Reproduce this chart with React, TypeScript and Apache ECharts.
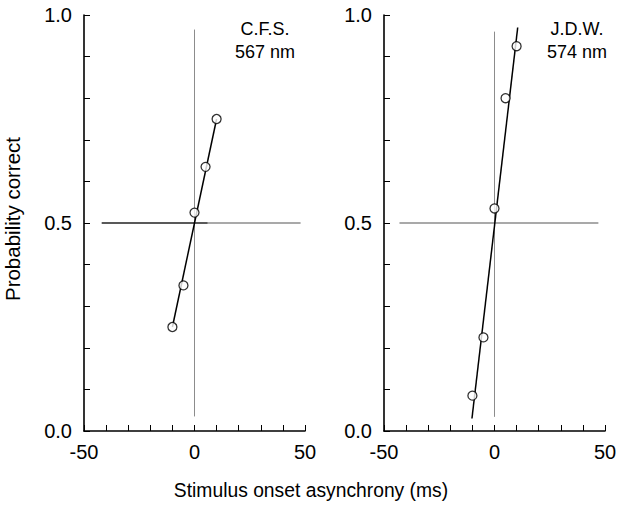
import React, { useEffect, useRef } from "react";
import * as echarts from "echarts";

// Stimulus onset asynchrony (ms) of the measured points
const delays = [-10, -5, 0, 5, 10];
// Probability correct, observer C.F.S. (567 nm)
const cfsProb = [0.25, 0.35, 0.525, 0.635, 0.75];
// Probability correct, observer J.D.W. (574 nm)
const jdwProb = [0.085, 0.225, 0.535, 0.8, 0.925];

// Fitted lines (endpoints)
const cfsFitX = [-10, 10];
const cfsFitY = [0.25, 0.75];
const jdwFitX = [-10.2, 10.5];
const jdwFitY = [0.03, 0.97];

// Reference lines (chance level and zero asynchrony)
const cfsRefHDarkX = [-42, 6];
const cfsRefHX = [6, 48];
const jdwRefHX = [-43, 47];
const refHY = 0.5;
const refVX = 0;
const cfsRefVY = [0.035, 0.965];
const jdwRefVY = [0.034, 0.96];

// Axis ranges and labelled ticks
const xRange = [-50, 50];
const yRange = [0, 1];
const xLabelled = [-50, 0, 50];
const yLabelled = [0, 0.5, 1];

const panelLabels = [
  ["C.F.S.", "567 nm"],
  ["J.D.W.", "574 nm"],
];

const FONT = "'Liberation Sans', Arial, Helvetica, sans-serif";

function pairs(xs: number[], ys: number[]) {
  return xs.map((x, i) => [x, ys[i]]);
}

export default function App() {
  const ref = useRef<HTMLDivElement>(null);

  useEffect(() => {
    if (!ref.current) return;
    const chart = echarts.init(ref.current, undefined, { renderer: "svg" });

    const grids = [
      { left: 84, top: 15, width: 221, height: 416 },
      { left: 384, top: 15, width: 221, height: 416 },
    ];

    const xAxis = grids.map((_, i) => ({
      type: "value",
      gridIndex: i,
      min: xRange[0],
      max: xRange[1],
      interval: 10,
      splitLine: { show: false },
      axisLine: { show: true, onZero: false, lineStyle: { color: "#000", width: 1.6 } },
      axisTick: { show: true, inside: true, length: 6, lineStyle: { color: "#000", width: 1 } },
      axisLabel: {
        show: true,
        margin: 11,
        fontFamily: FONT,
        fontSize: 20,
        lineHeight: 20,
        color: "#000",
        formatter: (v: number) =>
          xLabelled.some((l) => Math.abs(l - v) < 1e-6) ? String(Math.round(v)) : "",
      },
    }));

    const yAxis = grids.map((_, i) => ({
      type: "value",
      gridIndex: i,
      min: yRange[0],
      max: yRange[1],
      interval: 0.1,
      splitLine: { show: false },
      axisLine: { show: true, onZero: false, lineStyle: { color: "#000", width: 1.6 } },
      axisTick: { show: true, inside: true, length: 6, lineStyle: { color: "#000", width: 1 } },
      axisLabel: {
        show: true,
        margin: 12,
        fontFamily: FONT,
        fontSize: 20,
        color: "#000",
        formatter: (v: number) =>
          yLabelled.some((l) => Math.abs(l - v) < 1e-6) ? v.toFixed(1) : "",
      },
    }));

    const refLine = (i: number, xs: number[], ys: number[], color: string, width: number) => ({
      type: "line",
      xAxisIndex: i,
      yAxisIndex: i,
      data: pairs(xs, ys),
      symbol: "none",
      silent: true,
      lineStyle: { color, width },
      z: 1,
    });

    const fitSeries = (i: number, xs: number[], ys: number[]) => ({
      type: "line",
      xAxisIndex: i,
      yAxisIndex: i,
      data: pairs(xs, ys),
      symbol: "none",
      silent: true,
      lineStyle: { color: "#000", width: 1.5 },
      z: 2,
    });

    const pointSeries = (i: number, ys: number[]) => ({
      type: "scatter",
      xAxisIndex: i,
      yAxisIndex: i,
      data: pairs(delays, ys),
      symbol: "circle",
      symbolSize: 9,
      itemStyle: { color: "#fff", borderColor: "#000", borderWidth: 1.3 },
      z: 3,
    });

    const labelTexts = (cx: number, lines: string[]) =>
      lines.map((t, k) => ({
        type: "text",
        x: cx,
        y: 29 + k * 23,
        style: {
          text: t,
          fontFamily: FONT,
          fontSize: 18,
          fill: "#000",
          align: "center",
          verticalAlign: "middle",
        },
      }));

    chart.setOption({
      animation: false,
      backgroundColor: "#fff",
      grid: grids,
      xAxis,
      yAxis,
      series: [
        refLine(0, cfsRefHDarkX, [refHY, refHY], "#222", 1.3),
        refLine(0, cfsRefHX, [refHY, refHY], "#8c8c8c", 1.3),
        refLine(0, [refVX, refVX], cfsRefVY, "#8c8c8c", 1),
        refLine(1, jdwRefHX, [refHY, refHY], "#8c8c8c", 1.3),
        refLine(1, [refVX, refVX], jdwRefVY, "#8c8c8c", 1),
        fitSeries(0, cfsFitX, cfsFitY),
        fitSeries(1, jdwFitX, jdwFitY),
        pointSeries(0, cfsProb),
        pointSeries(1, jdwProb),
      ],
      graphic: [
        ...labelTexts(265, panelLabels[0]),
        ...labelTexts(577, panelLabels[1]),
        {
          type: "text",
          x: 311,
          y: 490,
          style: {
            text: "Stimulus onset asynchrony (ms)",
            fontFamily: FONT,
            fontSize: 19.3,
            fill: "#000",
            align: "center",
            verticalAlign: "middle",
          },
        },
        {
          type: "text",
          x: 12,
          y: 219,
          rotation: Math.PI / 2,
          style: {
            text: "Probability correct",
            fontFamily: FONT,
            fontSize: 20.5,
            fill: "#000",
            align: "center",
            verticalAlign: "middle",
          },
        },
      ],
    });

    return () => chart.dispose();
  }, []);

  return (
    <div
      ref={ref}
      style={{ position: "fixed", left: 0, top: 0, width: 622, height: 508, background: "#fff" }}
    />
  );
}
